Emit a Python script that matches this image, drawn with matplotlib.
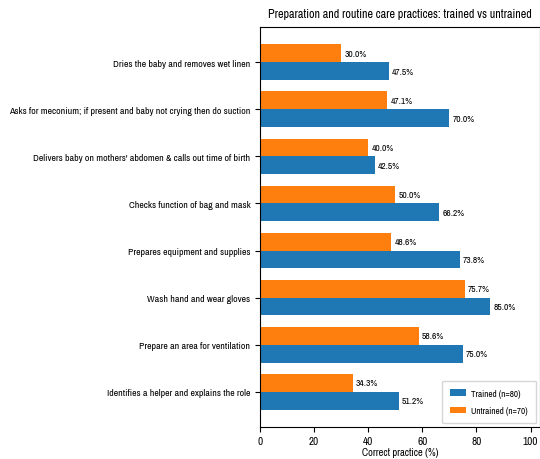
import matplotlib
matplotlib.use("Agg")
import matplotlib.pyplot as plt
from matplotlib import font_manager
import numpy as np

names = {f.name for f in font_manager.fontManager.ttflist}
fam = "Archivo Narrow" if "Archivo Narrow" in names else "DejaVu Sans"
plt.rcParams["font.family"] = [fam, "DejaVu Sans"]

categories = [
    "Identifies a helper and explains the role",
    "Prepare an area for ventilation",
    "Wash hand and wear gloves",
    "Prepares equipment and supplies",
    "Checks function of bag and mask",
    "Delivers baby on mothers' abdomen & calls out time of birth",
    "Asks for meconium; if present and baby not crying then do suction",
    "Dries the baby and removes wet linen",
]
trained = [51.2, 75.0, 85.0, 73.8, 66.2, 42.5, 70.0, 47.5]
untrained = [34.3, 58.6, 75.7, 48.6, 50.0, 40.0, 47.1, 30.0]

fig = plt.figure(figsize=(5.4, 4.6), dpi=100)
ax = fig.add_axes([260/540, 1 - 428/460, 1.0 - 260/540, 400/460])

y = np.arange(len(categories))
h = 0.38
b1 = ax.barh(y - h/2, trained, height=h, color="#1f77b4", label="Trained (n=80)")
b2 = ax.barh(y + h/2, untrained, height=h, color="#ff7f0e", label="Untrained (n=70)")

for bars in (b1, b2):
    for r in bars:
        w = r.get_width()
        ax.text(w + 1.2, r.get_y() + r.get_height()/2, f"{w:.1f}%", va="center", ha="left", fontsize=6.8)

ax.set_yticks(y)
ax.set_yticklabels(categories, fontsize=7.1)
ax.set_ylim(-0.75, 7.75)
ax.set_xlim(0, 103.5)
ax.set_xticks([0, 20, 40, 60, 80, 100])
ax.tick_params(axis="x", labelsize=8, pad=3)
ax.set_xlabel("Correct practice (%)", fontsize=7.5, labelpad=1)
ax.set_title("Preparation and routine care practices: trained vs untrained", fontsize=8.7, pad=7)
ax.legend(loc="lower right", fontsize=6.6, borderpad=0.9, labelspacing=0.9, handlelength=1.7,
          handletextpad=0.6, borderaxespad=0.4)

fig.savefig("out.png", dpi=100)
